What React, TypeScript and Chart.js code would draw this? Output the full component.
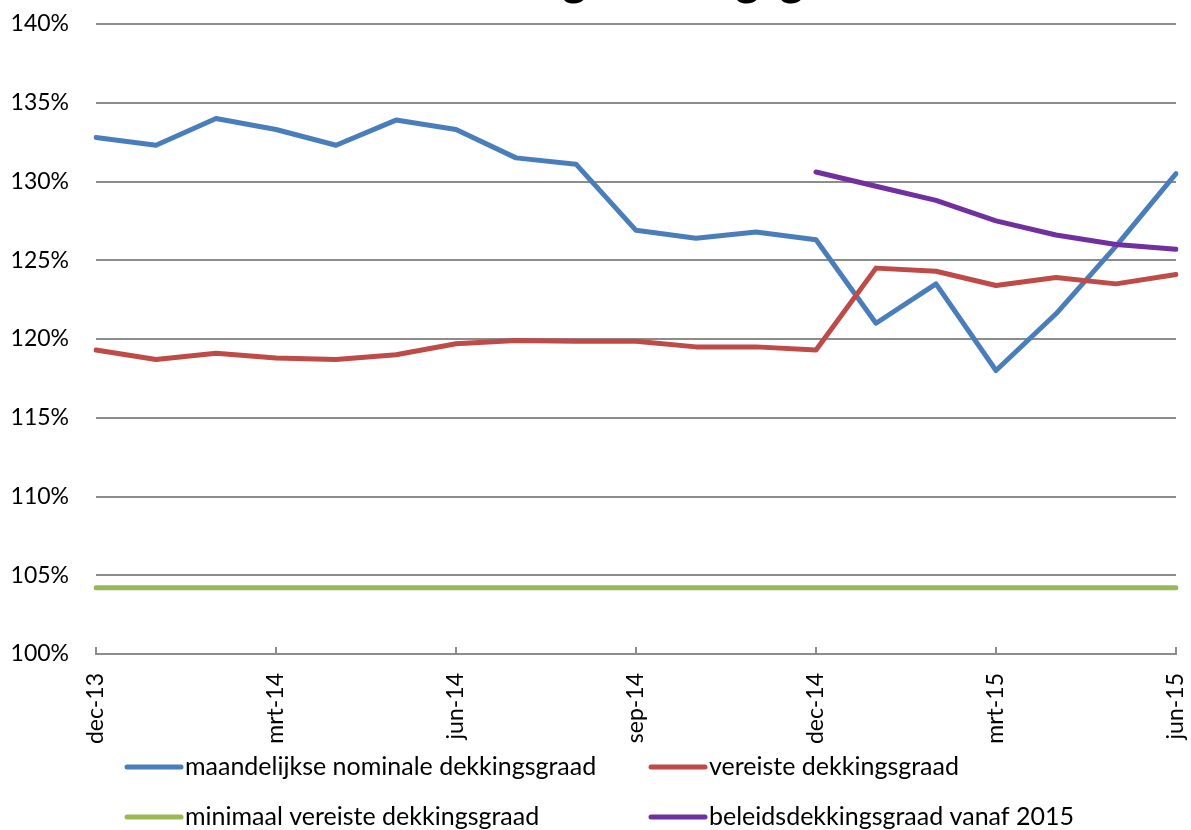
import React, { useEffect, useRef } from "react";
import { Chart, registerables } from "chart.js";

Chart.register(...registerables);

const titleText = "Ontwikkeling dekkingsgraad";

const months = [
  "dec-13", "jan-14", "feb-14", "mrt-14", "apr-14", "mei-14", "jun-14",
  "jul-14", "aug-14", "sep-14", "okt-14", "nov-14", "dec-14", "jan-15",
  "feb-15", "mrt-15", "apr-15", "mei-15", "jun-15",
];

const yTicks = [100, 105, 110, 115, 120, 125, 130, 135, 140];

const nominaal = [
  132.8, 132.3, 134.0, 133.3, 132.3, 133.9, 133.3, 131.5, 131.1, 126.9,
  126.4, 126.8, 126.3, 121.0, 123.5, 118.0, 121.6, 125.9, 130.5,
];

const vereist = [
  119.3, 118.7, 119.1, 118.8, 118.7, 119.0, 119.7, 119.9, 119.85, 119.85,
  119.5, 119.5, 119.3, 124.5, 124.3, 123.4, 123.9, 123.5, 124.1,
];

const minimaal = [
  104.2, 104.2, 104.2, 104.2, 104.2, 104.2, 104.2, 104.2, 104.2, 104.2,
  104.2, 104.2, 104.2, 104.2, 104.2, 104.2, 104.2, 104.2, 104.2,
];

const beleid = [
  null, null, null, null, null, null, null, null, null, null, null, null,
  130.6, 129.7, 128.8, 127.5, 126.6, 126.0, 125.7,
];

const seriesLabels = [
  "maandelijkse nominale dekkingsgraad",
  "vereiste dekkingsgraad",
  "minimaal vereiste dekkingsgraad",
  "beleidsdekkingsgraad vanaf 2015",
];

const colors = ["#4a7ebb", "#be4b48", "#98b954", "#7030a0"];

const FONT = "Lato, 'Open Sans', 'DejaVu Sans', sans-serif";

const titlePlugin = {
  id: "cutTitle",
  afterDraw(chart: any, _args: any, opts: any) {
    const ctx = chart.ctx;
    ctx.save();
    ctx.font = `bold ${opts.size}px ${FONT}`;
    ctx.fillStyle = "#000";
    ctx.textAlign = "center";
    ctx.textBaseline = "alphabetic";
    ctx.fillText(opts.text, opts.x, opts.y);
    ctx.restore();
  },
};

const tickMarkPlugin = {
  id: "innerTicks",
  afterDatasetsDraw(chart: any, _args: any, opts: any) {
    const xs = chart.scales.x;
    const ctx = chart.ctx;
    const bottom = chart.chartArea.bottom;
    ctx.save();
    ctx.strokeStyle = opts.color;
    ctx.lineWidth = 2;
    for (let i = 0; i < months.length; i += opts.every) {
      const x = Math.round(xs.getPixelForValue(i));
      ctx.beginPath();
      ctx.moveTo(x, bottom);
      ctx.lineTo(x, bottom - opts.length);
      ctx.stroke();
    }
    ctx.restore();
  },
};

const gridLegendPlugin = {
  id: "gridLegend",
  afterDraw(chart: any, _args: any, opts: any) {
    const ctx = chart.ctx;
    const ds = chart.data.datasets;
    ctx.save();
    ctx.font = `${opts.fontSize}px ${FONT}`;
    ctx.textBaseline = "middle";
    ctx.textAlign = "left";
    ds.forEach((d: any, i: number) => {
      const col = i % 2;
      const row = Math.floor(i / 2);
      const x = opts.cols[col];
      const y = opts.rows[row];
      ctx.strokeStyle = d.borderColor;
      ctx.lineWidth = 5;
      ctx.lineCap = "round";
      ctx.beginPath();
      ctx.moveTo(x, y);
      ctx.lineTo(x + opts.lineLen, y);
      ctx.stroke();
      ctx.fillStyle = "#000";
      ctx.fillText(d.label, x + opts.lineLen + opts.gap, y);
    });
    ctx.restore();
  },
};

export default function App() {
  const ref = useRef<HTMLCanvasElement | null>(null);

  useEffect(() => {
    if (!ref.current) return;
    const seriesData = [nominaal, vereist, minimaal, beleid];
    const chart = new Chart(ref.current, {
      type: "line",
      data: {
        labels: months,
        datasets: seriesData.map((d, i) => ({
          label: seriesLabels[i],
          data: d,
          borderColor: colors[i],
          backgroundColor: colors[i],
          borderWidth: 5,
          pointRadius: 0,
          tension: 0,
          borderCapStyle: "round",
          borderJoinStyle: "round",
          fill: false,
          spanGaps: false,
          order: 4 - i,
        })),
      },
      options: {
        animation: false,
        responsive: false,
        maintainAspectRatio: false,
        layout: { autoPadding: false, padding: { top: 24, right: 15, bottom: 86, left: 0 } },
        plugins: {
          legend: { display: false },
          title: { display: false },
          tooltip: { enabled: false },
          cutTitle: { text: titleText, x: 603, y: -5, size: 46 },
          innerTicks: { every: 3, length: 7, color: "#8c8c8c" },
          gridLegend: {
            fontSize: 25,
            cols: [127, 651],
            rows: [767, 817],
            lineLen: 54,
            gap: 4,
          },
        } as any,
        scales: {
          x: {
            type: "category",
            offset: false,
            grid: { display: false, drawTicks: false },
            border: { display: true, color: "#8c8c8c", width: 2 },
            ticks: {
              autoSkip: false,
              maxRotation: 90,
              minRotation: 90,
              padding: 19,
              color: "#000",
              font: { family: FONT, size: 23 },
              callback: (_v: any, idx: number) => (idx % 3 === 0 ? months[idx] : ""),
            },
            afterFit: (s: any) => {
              s.height = 90;
              s.paddingLeft = 0;
              s.paddingRight = 0;
              s.paddingTop = 0;
              s.paddingBottom = 0;
            },
          },
          y: {
            min: 100,
            max: 140,
            afterBuildTicks: (s: any) => {
              s.ticks = yTicks.map((v) => ({ value: v }));
            },
            grid: { color: "#8c8c8c", lineWidth: 2, drawTicks: false },
            border: { display: false },
            ticks: {
              padding: 27,
              color: "#000",
              font: { family: FONT, size: 23 },
              callback: (v: any) => `${v}%`,
            },
            afterFit: (s: any) => {
              s.width = 96;
              s.paddingLeft = 0;
              s.paddingRight = 0;
              s.paddingTop = 0;
              s.paddingBottom = 0;
            },
          },
        },
      },
      plugins: [titlePlugin, tickMarkPlugin, gridLegendPlugin],
    });
    return () => chart.destroy();
  }, []);

  return (
    <div style={{ position: "absolute", left: 0, top: 0, width: 1191, height: 830 }}>
      <canvas ref={ref} width={1191} height={830} />
    </div>
  );
}
